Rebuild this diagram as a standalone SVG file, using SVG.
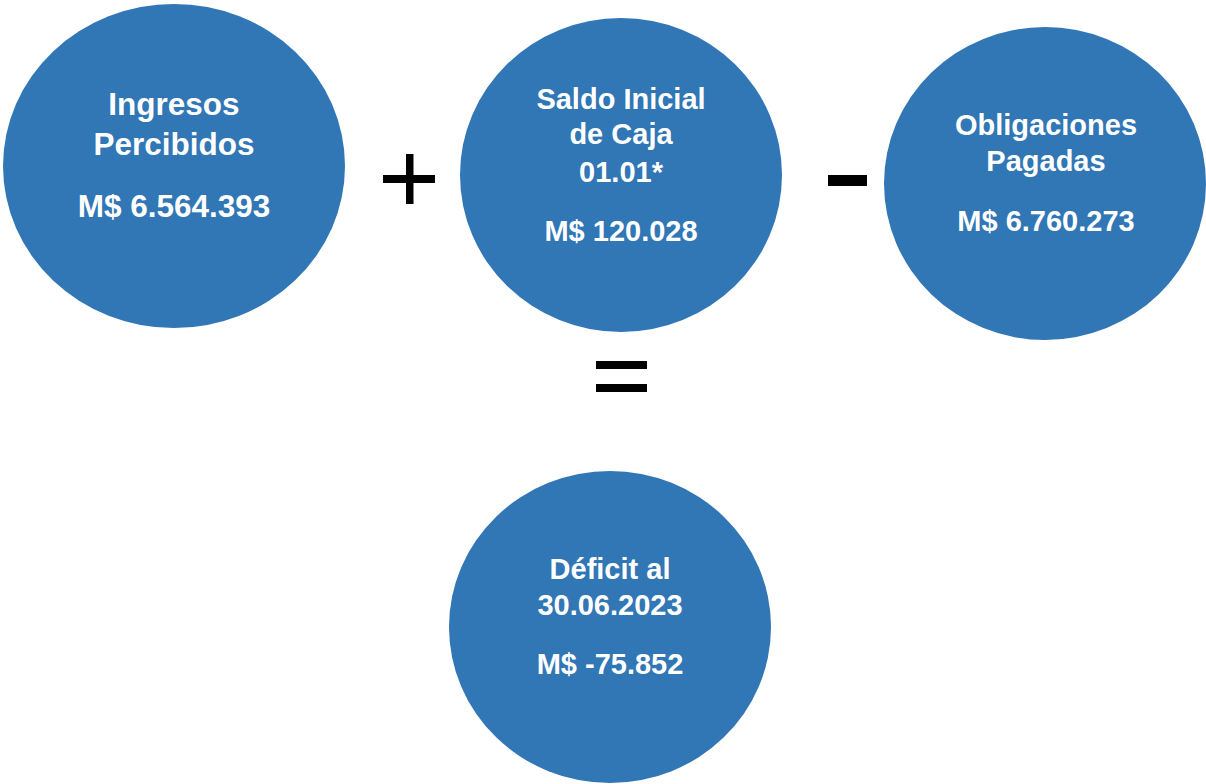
<svg xmlns="http://www.w3.org/2000/svg" width="1206" height="784" viewBox="0 0 1206 784">
<style>
.c{fill:#3176b5}
.t{font-family:"Liberation Sans",Arial,sans-serif;font-weight:bold;fill:#fff;text-anchor:middle}
.op{fill:#000}
</style>
<rect width="1206" height="784" fill="#fff"/>
<g id="ingresos">
<ellipse class="c" cx="174" cy="166" rx="171" ry="162"/>
<text class="t" x="174" y="115" font-size="31.5">Ingresos</text>
<text class="t" x="174" y="155" font-size="31.5">Percibidos</text>
<text class="t" x="174" y="217" font-size="31.5">M$ 6.564.393</text>
</g>
<g id="saldo">
<ellipse class="c" cx="621" cy="175" rx="161" ry="157"/>
<text class="t" x="621" y="109" font-size="29">Saldo Inicial</text>
<text class="t" x="621" y="144" font-size="29">de Caja</text>
<text class="t" x="621" y="181.5" font-size="29">01.01*</text>
<text class="t" x="621" y="240.5" font-size="29">M$ 120.028</text>
</g>
<g id="obligaciones">
<ellipse class="c" cx="1045" cy="183.5" rx="161" ry="156.5"/>
<text class="t" x="1046" y="134.5" font-size="29">Obligaciones</text>
<text class="t" x="1046" y="171" font-size="29">Pagadas</text>
<text class="t" x="1046" y="230.5" font-size="29">M$ 6.760.273</text>
</g>
<g id="deficit">
<ellipse class="c" cx="610" cy="627" rx="161" ry="156"/>
<text class="t" x="610" y="578.5" font-size="29">Déficit al</text>
<text class="t" x="610" y="615" font-size="29">30.06.2023</text>
<text class="t" x="610" y="673.5" font-size="29">M$ -75.852</text>
</g>
<g id="operators">
<rect class="op" x="383" y="175" width="52" height="8"/>
<rect class="op" x="406" y="154" width="7.5" height="50"/>
<rect class="op" x="828" y="175" width="39" height="11"/>
<rect class="op" x="596" y="361" width="51" height="8"/>
<rect class="op" x="596" y="384" width="51" height="8"/>
</g>
</svg>
